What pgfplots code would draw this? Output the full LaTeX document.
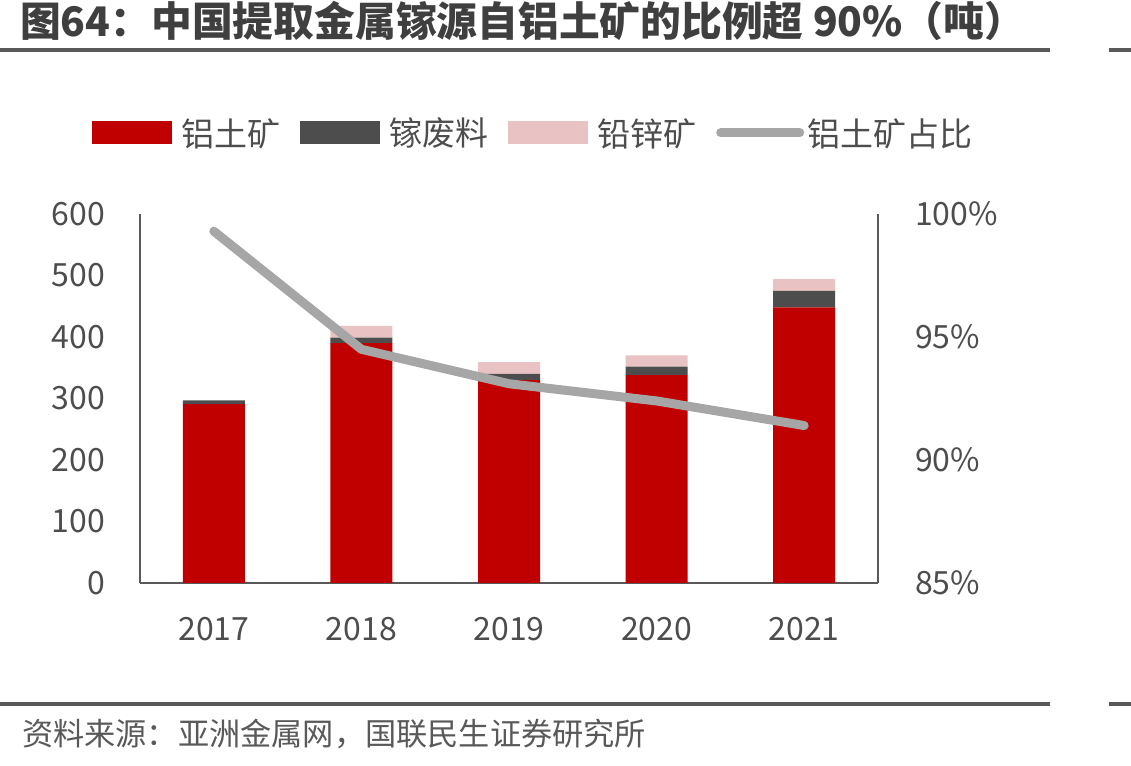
\documentclass[border=0pt]{standalone}
\usepackage{fontspec}
\setmainfont{Noto Sans CJK SC}
\usepackage{pgfplots}
\pgfplotsset{compat=1.18}
\usepackage{graphicx}

\definecolor{bauxite}{HTML}{C00000}
\definecolor{scrap}{HTML}{4D4D4D}
\definecolor{leadzinc}{HTML}{E9C3C3}
\definecolor{ratio}{HTML}{A6A6A6}
\definecolor{axisgray}{HTML}{595959}
\definecolor{textgray}{HTML}{4D4D4D}
\definecolor{titlegray}{HTML}{3F3F3F}

\begin{document}
\begin{tikzpicture}[x=1pt,y=1pt]
\useasboundingbox (0,0) rectangle (1131,765);

% title and rules
\node[anchor=south west, inner sep=0pt, text=titlegray] at (20,724)
  {\resizebox{1005pt}{!}{\fontsize{42pt}{46pt}\selectfont\bfseries 图64：中国提取金属镓源自铝土矿的比例超 90\%（吨）}};
\fill[axisgray] (0,713.2) rectangle (1050,716.8);
\fill[axisgray] (1109,713.2) rectangle (1131,716.8);
\fill[axisgray] (0,59) rectangle (1050,63);
\fill[axisgray] (1109,59) rectangle (1131,63);
\node[anchor=west, inner sep=0pt, text=axisgray] at (22,31)
  {\resizebox{624pt}{!}{\fontsize{28pt}{32pt}\selectfont 资料来源：亚洲金属网，国联民生证券研究所}};

% production in tonnes, stacked by source
\begin{axis}[
  at={(140pt,182pt)}, anchor=south west,
  scale only axis, width=738pt, height=369pt,
  ybar stacked, bar width=62pt,
  xmin=-0.5, xmax=4.5, ymin=0, ymax=600,
  xtick={0,1,2,3,4},
  xticklabels={2017,2018,2019,2020,2021},
  ytick={0,100,...,600},
  axis x line*=bottom, axis y line*=left,
  axis line style={axisgray, line width=2.5pt, -},
  major tick length=0pt,
  tick label style={text=textgray, font=\fontsize{32pt}{36pt}\selectfont, inner sep=0pt},
  x tick label style={anchor=north, yshift=-34pt},
  y tick label style={anchor=east, xshift=-35pt},
  /pgf/number format/assume math mode=true,
  legend columns=4,
  legend style={at={(-0.065,1.22)}, anchor=west, draw=none, fill=none,
    inner sep=0pt, font=\fontsize{33pt}{36pt}\selectfont, text=textgray,
    /tikz/every odd column/.append style={column sep=9pt},
    /tikz/every even column/.append style={column sep=20pt},
    nodes={inner sep=0pt, anchor=west}},
  legend image code/.code={\fill[draw=none] (0pt,-11.5pt) rectangle (80pt,11.5pt);},
  clip=false,
]
\addplot[fill=bauxite, draw=none] coordinates {(0,291) (1,390) (2,330) (3,338) (4,448)};
\addlegendentry{铝土矿}
\addplot[fill=scrap, draw=none] coordinates {(0,6) (1,9) (2,10) (3,14) (4,27)};
\addlegendentry{镓废料}
\addplot[fill=leadzinc, draw=none] coordinates {(0,0) (1,19) (2,19) (3,18) (4,19)};
\addlegendentry{铅锌矿}
\addlegendimage{draw=none, fill=none, legend image code/.code={
  \path[use as bounding box, draw=none, fill=none] (0pt,-4.5pt) rectangle (82pt,4.5pt);
  \draw[overlay, draw=ratio, fill=none, line width=9pt, line cap=round] (4.5pt,0pt) -- (83.5pt,0pt);}}
\addlegendentry{铝土矿占比}
\end{axis}

% share of bauxite, percent
\begin{axis}[
  at={(140pt,182pt)}, anchor=south west,
  scale only axis, width=738pt, height=369pt,
  xmin=-0.5, xmax=4.5, ymin=85, ymax=100,
  ytick={85,90,95,100},
  yticklabel={\pgfmathprintnumber{\tick}\%},
  axis x line=none, axis y line*=right,
  axis line style={axisgray, line width=2.5pt, -},
  major tick length=0pt,
  tick label style={text=textgray, font=\fontsize{32pt}{36pt}\selectfont, inner sep=0pt},
  y tick label style={anchor=west, xshift=37pt},
  /pgf/number format/assume math mode=true,
  clip=false,
]
\addplot[ratio, line width=9pt, line cap=round, line join=round]
  coordinates {(0,99.3) (1,94.5) (2,93.1) (3,92.4) (4,91.4)};
\end{axis}
\end{tikzpicture}
\end{document}
